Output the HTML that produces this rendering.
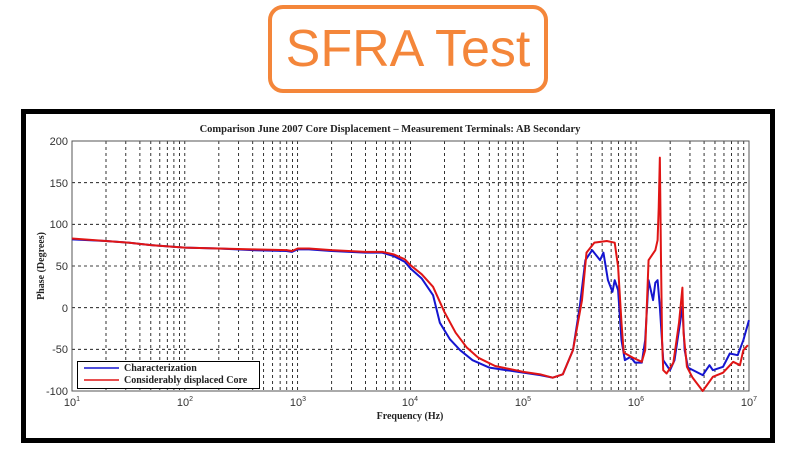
<!DOCTYPE html>
<html><head><meta charset="utf-8"><style>
html,body{margin:0;padding:0;background:#fff;width:796px;height:465px;overflow:hidden}
</style></head><body>
<svg width="796" height="465" viewBox="0 0 796 465" xmlns="http://www.w3.org/2000/svg">
<rect x="0" y="0" width="796" height="465" fill="#fff"/>
<rect x="270" y="7" width="276" height="84" rx="13" fill="none" stroke="#F4863A" stroke-width="4"/>
<text x="408" y="66" text-anchor="middle" font-family="Liberation Sans, sans-serif" font-size="52" fill="#F4863A">SFRA Test</text>
<rect x="23.5" y="111.5" width="749" height="329" fill="#fff" stroke="#000" stroke-width="5"/>
<text x="390" y="132" text-anchor="middle" font-family="Liberation Serif, serif" font-weight="bold" font-size="10.5" fill="#222">Comparison June 2007 Core Displacement – Measurement Terminals: AB Secondary</text>
<g stroke="#000" stroke-width="0.8" stroke-dasharray="3,3" fill="none">
<path d="M72 349.3H749M72 307.7H749M72 266H749M72 224.3H749M72 182.7H749"/>
<path id="g" d="
M106 141V391M125.8 141V391M139.9 141V391M150.8 141V391M159.8 141V391M167.3 141V391M173.9 141V391M179.6 141V391M184.8 141V391
"/>
<use href="#g" x="112.83"/><use href="#g" x="225.67"/><use href="#g" x="338.5"/><use href="#g" x="451.33"/><use href="#g" x="564.17"/>
</g>
<rect x="72" y="141" width="677" height="250" fill="none" stroke="#555" stroke-width="1"/>
<g font-family="Liberation Sans, sans-serif" font-size="11" fill="#333" text-anchor="end">
<text x="68" y="145">200</text><text x="68" y="187">150</text><text x="68" y="228">100</text><text x="68" y="270">50</text><text x="68" y="312">0</text><text x="68" y="353">-50</text><text x="68" y="395">-100</text>
</g>
<g font-family="Liberation Sans, sans-serif" font-size="11" fill="#333" text-anchor="middle">
<text x="72" y="406">10<tspan font-size="7" dy="-5">1</tspan></text>
<text x="185" y="406">10<tspan font-size="7" dy="-5">2</tspan></text>
<text x="298" y="406">10<tspan font-size="7" dy="-5">3</tspan></text>
<text x="410" y="406">10<tspan font-size="7" dy="-5">4</tspan></text>
<text x="523" y="406">10<tspan font-size="7" dy="-5">5</tspan></text>
<text x="636" y="406">10<tspan font-size="7" dy="-5">6</tspan></text>
<text x="749" y="406">10<tspan font-size="7" dy="-5">7</tspan></text>
</g>
<text x="410" y="419" text-anchor="middle" font-family="Liberation Serif, serif" font-weight="bold" font-size="10" fill="#222">Frequency (Hz)</text>
<text transform="translate(44,266) rotate(-90)" text-anchor="middle" font-family="Liberation Serif, serif" font-weight="bold" font-size="10" fill="#222">Phase (Degrees)</text>
<g transform="translate(72,307.67) scale(112.83,-0.8333)" fill="none" stroke-width="2" stroke-linejoin="round">
<polyline vector-effect="non-scaling-stroke" stroke="#1515d0" points="0,82 0.3,80 0.5,78 0.7,75 1,72 1.3,71 1.6,69 1.9,68 1.95,67 2,70 2.1,70 2.3,68 2.6,66 2.75,66 2.85,62 2.95,55 3.0,47 3.1,35 3.2,15 3.26,-18 3.35,-38 3.44,-51 3.55,-63 3.7,-72 4.0,-78 4.15,-81 4.26,-84 4.35,-80 4.44,-51 4.50,1 4.55,57 4.61,69 4.68,57 4.71,66 4.75,33 4.79,19 4.81,33 4.84,21 4.87,-39 4.90,-63 4.95,-59 4.99,-66 5.05,-66 5.08,-39 5.11,33 5.15,9 5.17,30 5.19,33 5.21,1 5.24,-63 5.30,-75 5.34,-63 5.41,1 5.43,-51 5.46,-72 5.59,-81 5.65,-69 5.68,-75 5.77,-71 5.83,-55 5.90,-57 5.95,-39 6.0,-15"/>
<polyline vector-effect="non-scaling-stroke" stroke="#e01515" points="0,83 0.3,80 0.5,78 0.7,75 1,72 1.3,71 1.6,70 1.9,69 1.95,68 2,71 2.1,71 2.3,69 2.6,67 2.75,67 2.85,64 2.95,58 3.0,51 3.1,40 3.2,25 3.3,-5 3.4,-30 3.5,-48 3.6,-60 3.75,-70 4.0,-77 4.15,-80 4.26,-84 4.35,-80 4.44,-51 4.52,9 4.56,66 4.63,78 4.74,80 4.81,78 4.84,49 4.87,-18 4.89,-54 4.97,-60 5.05,-65 5.08,-51 5.11,57 5.17,69 5.19,81 5.20,120 5.21,180 5.22,60 5.23,-40 5.24,-75 5.27,-79 5.33,-66 5.38,-18 5.41,24 5.42,-30 5.45,-71 5.50,-84 5.59,-100 5.68,-83 5.77,-78 5.86,-65 5.92,-69 5.95,-51 5.99,-45"/>
</g>
<rect x="77.5" y="361.5" width="182" height="27" fill="#fff" stroke="#000" stroke-width="1"/>
<line x1="84" y1="368" x2="119" y2="368" stroke="#1515d0" stroke-width="1.5"/>
<line x1="84" y1="380" x2="119" y2="380" stroke="#e01515" stroke-width="1.5"/>
<g font-family="Liberation Serif, serif" font-weight="bold" font-size="10" fill="#222">
<text x="124" y="371">Characterization</text>
<text x="124" y="383">Considerably displaced Core</text>
</g>
</svg>
</body></html>
